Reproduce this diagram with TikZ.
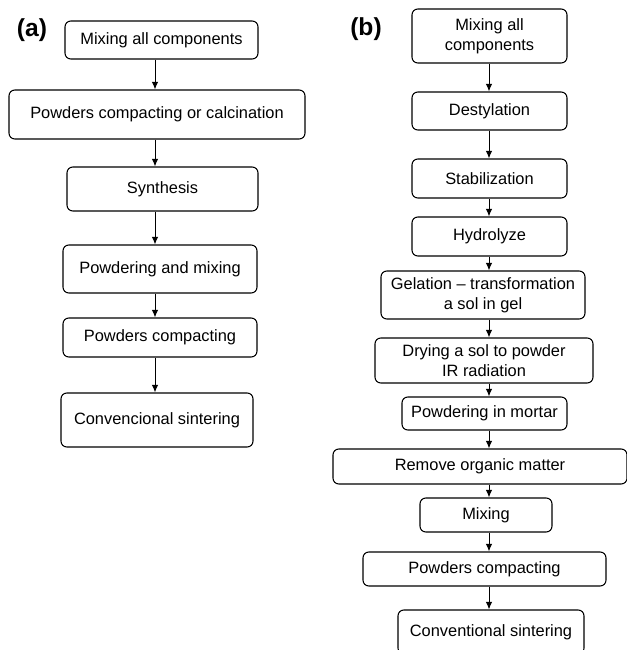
\documentclass[tikz,border=0pt]{standalone}
\usepackage{fontspec}
\setmainfont{Liberation Sans}
\usetikzlibrary{arrows.meta}

\begin{document}
\begin{tikzpicture}[x=0.03cm, y=-0.03cm,
    stepbox/.style={draw, rounded corners=5pt, line width=0.9pt, align=center,
        inner sep=0pt, font=\fontsize{14}{17}\selectfont},
    flow/.style={-{Latex[length=6.5pt,width=5.5pt]}, line width=0.85pt},
    panel/.style={font=\fontsize{21}{24}\selectfont\bfseries}]
                \useasboundingbox (0,0) rectangle (627,650);
                % (a)
                \node[panel] (la) at (32,30) {(a)};
                \node[stepbox, minimum width=193*0.03cm, minimum height=38*0.03cm] (a1) at (161.5,40) {Mixing all components};
                \node[stepbox, minimum width=296*0.03cm, minimum height=49*0.03cm] (a2) at (157,114.5) {Powders compacting or calcination};
                \node[stepbox, minimum width=191*0.03cm, minimum height=44*0.03cm] (a3) at (162.5,189) {Synthesis};
                \node[stepbox, minimum width=194*0.03cm, minimum height=48*0.03cm] (a4) at (160,269) {Powdering and mixing};
                \node[stepbox, minimum width=194*0.03cm, minimum height=39*0.03cm] (a5) at (160,337.5) {Powders compacting};
                \node[stepbox, minimum width=192*0.03cm, minimum height=54*0.03cm] (a6) at (157,420) {Convencional sintering};
                \coordinate (axa) at (155,0);
                \foreach \p/\q in {a1/a2, a2/a3, a3/a4, a4/a5, a5/a6} {
                    \draw[flow] (\p.south -| axa) -- (\q.north -| axa);
                }
                % (b)
                \node[panel] (lb) at (366,29) {(b)};
                \node[stepbox, minimum width=155*0.03cm, minimum height=54*0.03cm] (b1) at (489.5,36) {Mixing all\\components};
                \node[stepbox, minimum width=155*0.03cm, minimum height=38*0.03cm] (b2) at (489.5,111) {Destylation};
                \node[stepbox, minimum width=155*0.03cm, minimum height=39*0.03cm] (b3) at (489.5,178.5) {Stabilization};
                \node[stepbox, minimum width=155*0.03cm, minimum height=39*0.03cm] (b4) at (489.5,236.5) {Hydrolyze};
                \node[stepbox, minimum width=204*0.03cm, minimum height=48*0.03cm] (b5) at (483,295) {Gelation -- transformation\\a sol in gel};
                \node[stepbox, minimum width=218*0.03cm, minimum height=45*0.03cm] (b6) at (484,360.5) {Drying a sol to powder\\IR radiation};
                \node[stepbox, minimum width=165*0.03cm, minimum height=33*0.03cm] (b7) at (484.5,413.5) {Powdering in mortar};
                \node[stepbox, minimum width=294*0.03cm, minimum height=35*0.03cm] (b8) at (480,466.5) {Remove organic matter};
                \node[stepbox, minimum width=132*0.03cm, minimum height=34*0.03cm] (b9) at (486,515) {Mixing};
                \node[stepbox, minimum width=243*0.03cm, minimum height=34*0.03cm] (b10) at (484.5,569) {Powders compacting};
                \node[stepbox, minimum width=186*0.03cm, minimum height=44*0.03cm] (b11) at (491,632) {Conventional sintering};
                \coordinate (axb) at (489,0);
                \foreach \p/\q in {b1/b2, b2/b3, b3/b4, b4/b5, b5/b6, b6/b7, b7/b8, b8/b9, b9/b10, b10/b11} {
                    \draw[flow] (\p.south -| axb) -- (\q.north -| axb);
                }
            \end{tikzpicture}
\end{document}
